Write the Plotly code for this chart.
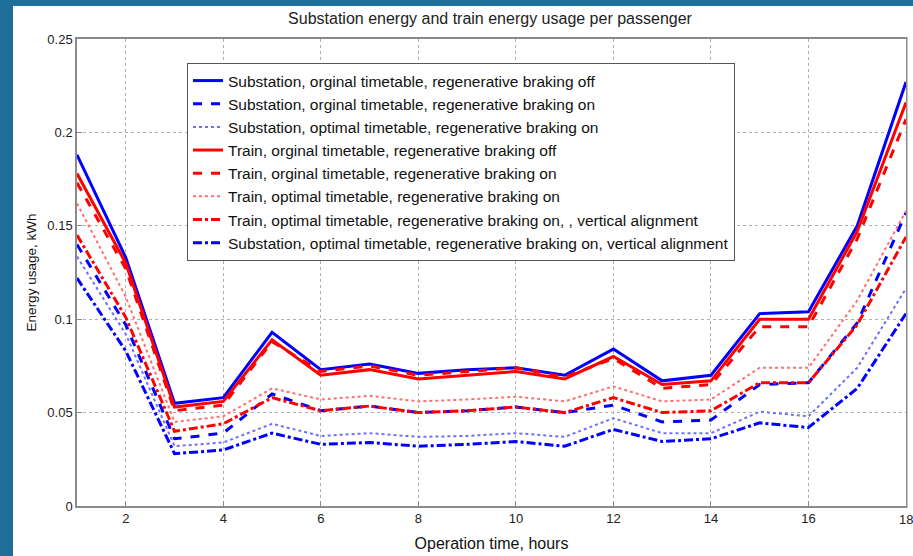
import plotly.graph_objects as go

hours = list(range(1, 19))

sub_orig_off = [0.188, 0.133, 0.055, 0.058, 0.093, 0.073, 0.076, 0.071, 0.073, 0.074, 0.070, 0.084, 0.067, 0.070, 0.103, 0.104, 0.150, 0.227]
sub_orig_on = [0.140, 0.097, 0.036, 0.039, 0.060, 0.051, 0.0535, 0.050, 0.051, 0.053, 0.050, 0.054, 0.045, 0.046, 0.065, 0.066, 0.098, 0.157]
sub_opt_on = [0.1335, 0.092, 0.032, 0.034, 0.044, 0.0375, 0.039, 0.037, 0.0375, 0.039, 0.037, 0.047, 0.039, 0.039, 0.0505, 0.048, 0.074, 0.1165]
train_orig_off = [0.178, 0.130, 0.053, 0.056, 0.089, 0.070, 0.073, 0.068, 0.070, 0.072, 0.068, 0.080, 0.065, 0.067, 0.100, 0.100, 0.147, 0.216]
train_orig_on = [0.173, 0.127, 0.051, 0.054, 0.088, 0.072, 0.075, 0.070, 0.072, 0.074, 0.069, 0.079, 0.063, 0.065, 0.096, 0.096, 0.143, 0.207]
train_opt_on = [0.162, 0.112, 0.045, 0.048, 0.063, 0.057, 0.059, 0.056, 0.057, 0.0585, 0.056, 0.064, 0.056, 0.057, 0.074, 0.074, 0.110, 0.158]
train_opt_va = [0.145, 0.101, 0.040, 0.044, 0.058, 0.051, 0.0535, 0.050, 0.051, 0.053, 0.050, 0.058, 0.050, 0.051, 0.066, 0.066, 0.097, 0.144]
sub_opt_va = [0.122, 0.083, 0.028, 0.030, 0.039, 0.033, 0.034, 0.032, 0.033, 0.0345, 0.032, 0.041, 0.0345, 0.036, 0.0445, 0.042, 0.063, 0.103]

x_ticks = [2, 4, 6, 8, 10, 12, 14, 16, 18]

names = [
    "Substation, orginal timetable, regenerative braking off",
    "Substation, orginal timetable, regenerative braking on",
    "Substation, optimal timetable, regenerative braking on",
    "Train, orginal timetable, regenerative braking off",
    "Train, orginal timetable, regenerative braking on",
    "Train, optimal timetable, regenerative braking on",
    "Train, optimal timetable, regenerative braking on, , vertical alignment",
    "Substation, optimal timetable, regenerative braking on, vertical alignment",
]
series = [sub_orig_off, sub_orig_on, sub_opt_on, train_orig_off, train_orig_on, train_opt_on, train_opt_va, sub_opt_va]
colors = ["#0000ff", "#0000ff", "#6f6fff", "#ff0000", "#ff0000", "#ff7070", "#ff0000", "#0000ff"]
dashes = ["solid", "dash", "dot", "solid", "dash", "dot", "dashdot", "dashdot"]
widths = [3, 3, 2, 3, 3, 2, 3, 3]

fig = go.Figure()
for i, (n, s, c, d, w) in enumerate(zip(names, series, colors, dashes, widths)):
    fig.add_trace(go.Scatter(x=hours, y=s, mode="lines", name=n, legendgroup=str(i),
                             line=dict(color=c, dash=d, width=w)))

W, H = 913, 556
L, R, T, B = 77, 7, 39, 50
pw, ph = W - L - R, H - T - B

def px(x):
    return (x - L) / pw

def py(y):
    return (H - B - y) / ph

BLUE = "#1f6f9b"
# blue slide background strips (left and top)
fig.add_shape(type="rect", xref="paper", yref="paper", x0=px(0), x1=px(13), y0=py(556), y1=py(0),
              fillcolor=BLUE, line=dict(width=0), layer="below")
fig.add_shape(type="rect", xref="paper", yref="paper", x0=px(0), x1=px(913), y0=py(6), y1=py(0),
              fillcolor=BLUE, line=dict(width=0), layer="below")
# white slide panel to the right of the axes frame
fig.add_shape(type="rect", xref="paper", yref="paper", x0=px(907.5), x1=px(913), y0=py(556), y1=py(6),
              fillcolor="white", line=dict(width=0), layer="above")

# last tick label sits on the figure edge (partly cut, as in the original)
fig.add_annotation(x=x_ticks[-1], xref="x", y=0, yref="paper", yanchor="top", yshift=-4,
                   text=str(x_ticks[-1]), showarrow=False,
                   font=dict(size=13, color="#222222", family="Liberation Sans, Arial"))

fig.update_layout(
    width=W, height=H,
    margin=dict(l=L, r=R, t=T, b=B),
    paper_bgcolor="white",
    plot_bgcolor="white",
    font=dict(family="Liberation Sans, Arial, sans-serif", size=13, color="#222222"),
    title=dict(text="Substation energy and train energy usage per passenger",
               xref="paper", x=px(490), xanchor="center", y=1 - 18 / H, yanchor="middle",
               font=dict(size=16, family="Liberation Sans, Arial", color="#222222")),
    showlegend=True,
    legend=dict(x=px(187), y=py(63), xanchor="left", yanchor="top",
                bgcolor="white", bordercolor="#555555", borderwidth=1,
                font=dict(size=15.5, family="Liberation Sans, Arial", color="#111111"),
                tracegroupgap=0, itemwidth=30),
    xaxis=dict(range=[1, 18], tickvals=x_ticks, showgrid=True, automargin=False,
               gridcolor="#b0b0b0", griddash="dot", gridwidth=1,
               showline=True, linecolor="#8a8a8a", linewidth=1.5, mirror=True,
               ticks="inside", ticklen=5, tickcolor="#8a8a8a", zeroline=False,
               tickfont=dict(size=13, color="#222222"),
               title=dict(text="Operation time, hours", standoff=12,
                          font=dict(size=16, color="#111111"))),
    yaxis=dict(range=[0, 0.25], tickvals=[0, 0.05, 0.1, 0.15, 0.2, 0.25], automargin=False,
               ticktext=["0", "0.05", "0.1", "0.15", "0.2", "0.25"], showgrid=True,
               gridcolor="#b0b0b0", griddash="dot", gridwidth=1,
               showline=True, linecolor="#8a8a8a", linewidth=1.5, mirror=True,
               ticks="inside", ticklen=5, tickcolor="#8a8a8a", zeroline=False,
               tickfont=dict(size=13, color="#222222"),
               title=dict(text="Energy usage, kWh", standoff=8,
                          font=dict(size=13.5, color="#111111"))),
)

fig.write_html("out.html")
